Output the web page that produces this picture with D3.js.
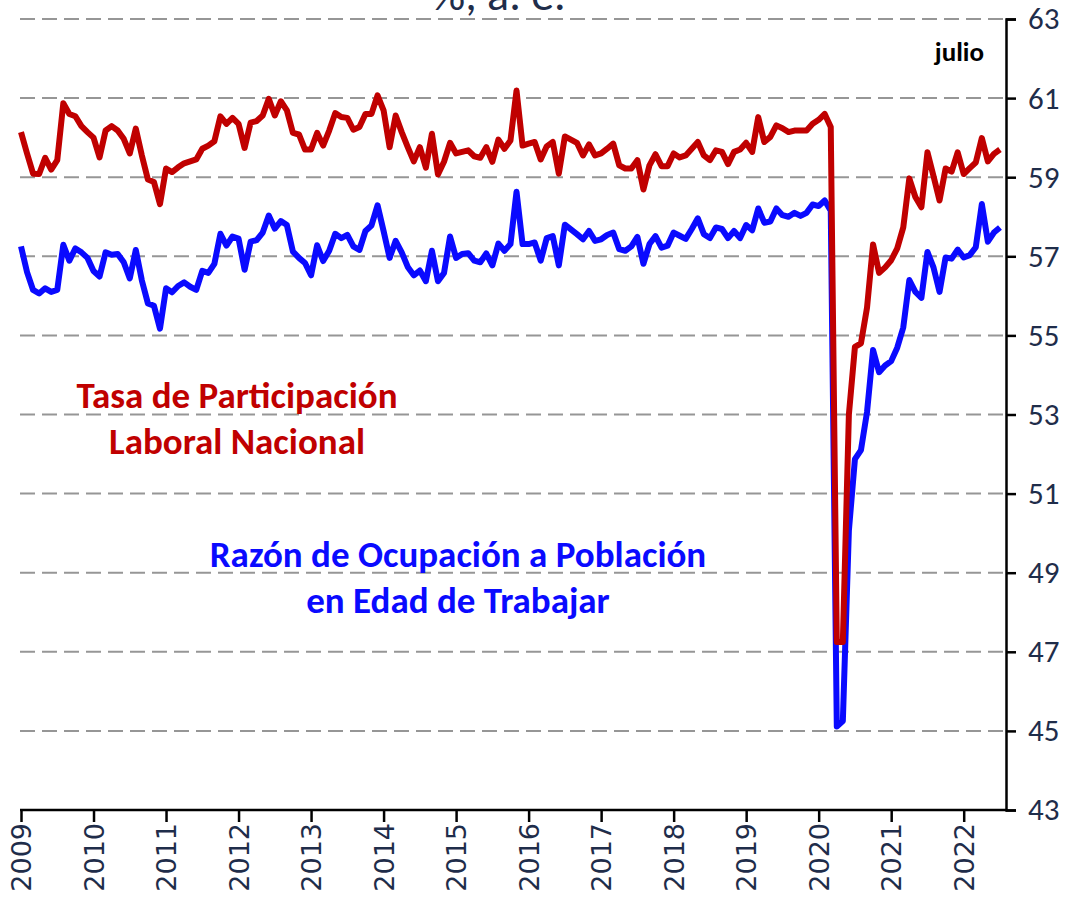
<!DOCTYPE html>
<html>
<head>
<meta charset="utf-8">
<script src="https://cdn.jsdelivr.net/npm/d3@7"></script>
<style>
  body { margin: 0; background: #fff; }
  svg { display: block; }
</style>
</head>
<body>
<div id="chart-container"></div>
<script>
// monthly, enero 2009 .. julio 2022
const startYear = 2009;
const yearLabels = ["2009","2010","2011","2012","2013","2014","2015","2016","2017","2018","2019","2020","2021","2022"];
const yTicks = [43,45,47,49,51,53,55,57,59,61,63];

const tasaParticipacion = [
  60.14,59.6,59.09,59.08,59.49,59.19,59.43,60.87,60.6,60.54,60.29,60.14,
  60.0,59.5,60.18,60.29,60.18,59.97,59.6,60.23,59.55,58.94,58.88,58.32,
  59.22,59.13,59.25,59.35,59.4,59.45,59.72,59.8,59.91,60.54,60.35,60.5,
  60.35,59.74,60.38,60.42,60.56,60.98,60.56,60.92,60.69,60.12,60.08,59.7,
  59.7,60.12,59.8,60.18,60.62,60.52,60.5,60.2,60.27,60.6,60.6,61.07,
  60.69,59.76,60.56,60.14,59.76,59.4,59.76,59.24,60.1,59.07,59.39,59.87,
  59.6,59.64,59.68,59.53,59.49,59.76,59.39,59.95,59.72,59.93,61.19,59.8,
  59.85,59.89,59.45,59.78,59.89,59.09,60.03,59.95,59.87,59.55,59.83,59.55,
  59.6,59.72,59.85,59.3,59.22,59.22,59.43,58.69,59.3,59.58,59.28,59.28,
  59.6,59.5,59.55,59.72,59.89,59.55,59.43,59.68,59.64,59.33,59.64,59.7,
  59.87,59.64,60.52,59.89,60.02,60.31,60.24,60.14,60.18,60.18,60.18,60.35,
  60.45,60.6,60.27,47.25,47.25,53.0,54.71,54.8,55.7,57.3,56.58,56.72,
  56.9,57.2,57.73,58.97,58.5,58.24,59.63,59.03,58.41,59.22,59.14,59.63,
  59.08,59.23,59.37,59.99,59.4,59.59,59.7
];

const razonOcupacion = [
  57.25,56.6,56.15,56.06,56.19,56.1,56.15,57.29,56.89,57.2,57.1,56.96,
  56.63,56.49,57.1,57.04,57.06,56.85,56.44,57.16,56.39,55.81,55.75,55.17,
  56.19,56.09,56.25,56.34,56.23,56.15,56.63,56.58,56.81,57.57,57.27,57.5,
  57.45,56.66,57.37,57.41,57.6,58.03,57.7,57.89,57.79,57.12,56.96,56.83,
  56.52,57.28,56.88,57.14,57.57,57.46,57.54,57.25,57.16,57.64,57.78,58.29,
  57.64,56.96,57.39,57.1,56.73,56.52,56.64,56.37,57.14,56.37,56.58,57.5,
  56.96,57.06,57.08,56.89,56.85,57.07,56.77,57.32,57.14,57.31,58.63,57.31,
  57.31,57.35,56.89,57.46,57.51,56.77,57.8,57.68,57.56,57.43,57.64,57.39,
  57.43,57.54,57.6,57.18,57.14,57.25,57.49,56.81,57.31,57.51,57.22,57.27,
  57.6,57.52,57.44,57.69,57.96,57.56,57.46,57.73,57.69,57.46,57.64,57.46,
  57.79,57.66,58.21,57.85,57.88,58.21,58.04,58.0,58.1,58.02,58.1,58.31,
  58.27,58.41,58.15,45.11,45.25,50.07,51.87,52.1,53.06,54.63,54.07,54.24,
  54.35,54.69,55.2,56.4,56.1,55.95,57.11,56.72,56.1,56.97,56.94,57.17,
  56.97,57.03,57.23,58.32,57.37,57.6,57.73
];

const width = 1072;
const height = 899;
const margin = { top: 19, right: 66, bottom: 89, left: 21 };

const svg = d3.select("#chart-container")
  .append("svg")
  .attr("width", width)
  .attr("height", height);

const x = d3.scaleLinear()
  .domain([0, 163])
  .range([margin.left, width - margin.right]);

const y = d3.scaleLinear()
  .domain([43, 63])
  .range([height - margin.bottom, margin.top]);

const axisX = width - margin.right;
const axisY = height - margin.bottom;
const textColor = "#1f2d4a";
const labelFont = "Carlito, 'Open Sans', 'Noto Sans', sans-serif";

// grid
svg.append("g")
  .selectAll("line")
  .data(yTicks.filter(d => d > 43))
  .enter()
  .append("line")
  .attr("x1", margin.left - 1)
  .attr("x2", axisX)
  .attr("y1", d => y(d))
  .attr("y2", d => y(d))
  .attr("stroke", "#969696")
  .attr("stroke-width", 2)
  .attr("stroke-dasharray", "15,7");

// title, only its lower part shows at the top edge (as in the original)
svg.append("text")
  .attr("x", 499)
  .attr("y", 10)
  .attr("text-anchor", "middle")
  .attr("font-family", labelFont)
  .attr("font-size", "46px")
  .attr("fill", textColor)
  .text("%, a. e.");

// right axis
const yAxis = d3.axisRight(y)
  .tickValues(yTicks)
  .tickSize(10)
  .tickPadding(12)
  .tickFormat(d3.format("d"));

const gy = svg.append("g")
  .attr("transform", `translate(${axisX},0)`)
  .call(yAxis);
gy.select(".domain").attr("stroke", "#000").attr("stroke-width", 2.5);
gy.selectAll(".tick line").attr("stroke", "#000").attr("stroke-width", 2.5);
gy.selectAll(".tick text")
  .attr("font-family", labelFont)
  .attr("font-size", "31px")
  .attr("fill", textColor);

// bottom axis
const xAxis = d3.axisBottom(x)
  .tickValues(yearLabels.map((d, i) => i * 12))
  .tickSize(12)
  .tickFormat((d, i) => yearLabels[i]);

const gx = svg.append("g")
  .attr("transform", `translate(0,${axisY})`)
  .call(xAxis);
gx.select(".domain")
  .attr("d", `M${margin.left - 1},0H${axisX}`)
  .attr("stroke", "#000")
  .attr("stroke-width", 2.5);
gx.selectAll(".tick line").attr("stroke", "#000").attr("stroke-width", 2.5);
gx.selectAll(".tick text")
  .attr("transform", "rotate(-90)")
  .attr("text-anchor", "end")
  .attr("x", -13)
  .attr("y", 0)
  .attr("dy", "0.36em")
  .attr("font-family", "'DejaVu Sans', Verdana, sans-serif")
  .attr("font-size", "27px")
  .attr("fill", textColor);

// series
const line = d3.line()
  .x((d, i) => x(i))
  .y(d => y(d));

svg.append("path")
  .datum(razonOcupacion)
  .attr("fill", "none")
  .attr("stroke", "#0a0aff")
  .attr("stroke-width", 6)
  .attr("stroke-linejoin", "round")
  .attr("d", line);

svg.append("path")
  .datum(tasaParticipacion)
  .attr("fill", "none")
  .attr("stroke", "#c00000")
  .attr("stroke-width", 6)
  .attr("stroke-linejoin", "round")
  .attr("d", line);

// labels
svg.append("text")
  .attr("x", 237)
  .attr("y", 408)
  .attr("text-anchor", "middle")
  .attr("font-family", labelFont)
  .attr("font-weight", "bold")
  .attr("font-size", "37px")
  .attr("fill", "#c00000")
  .text("Tasa de Participación");

svg.append("text")
  .attr("x", 237)
  .attr("y", 454)
  .attr("text-anchor", "middle")
  .attr("font-family", labelFont)
  .attr("font-weight", "bold")
  .attr("font-size", "37px")
  .attr("fill", "#c00000")
  .text("Laboral Nacional");

svg.append("text")
  .attr("x", 458)
  .attr("y", 567)
  .attr("text-anchor", "middle")
  .attr("font-family", labelFont)
  .attr("font-weight", "bold")
  .attr("font-size", "37px")
  .attr("fill", "#0a0aff")
  .text("Razón de Ocupación a Población");

svg.append("text")
  .attr("x", 458)
  .attr("y", 613)
  .attr("text-anchor", "middle")
  .attr("font-family", labelFont)
  .attr("font-weight", "bold")
  .attr("font-size", "37px")
  .attr("fill", "#0a0aff")
  .text("en Edad de Trabajar");

svg.append("text")
  .attr("x", 984)
  .attr("y", 61)
  .attr("text-anchor", "end")
  .attr("font-family", labelFont)
  .attr("font-weight", "bold")
  .attr("font-size", "27px")
  .attr("fill", "#000")
  .text("julio");
</script>
</body>
</html>
